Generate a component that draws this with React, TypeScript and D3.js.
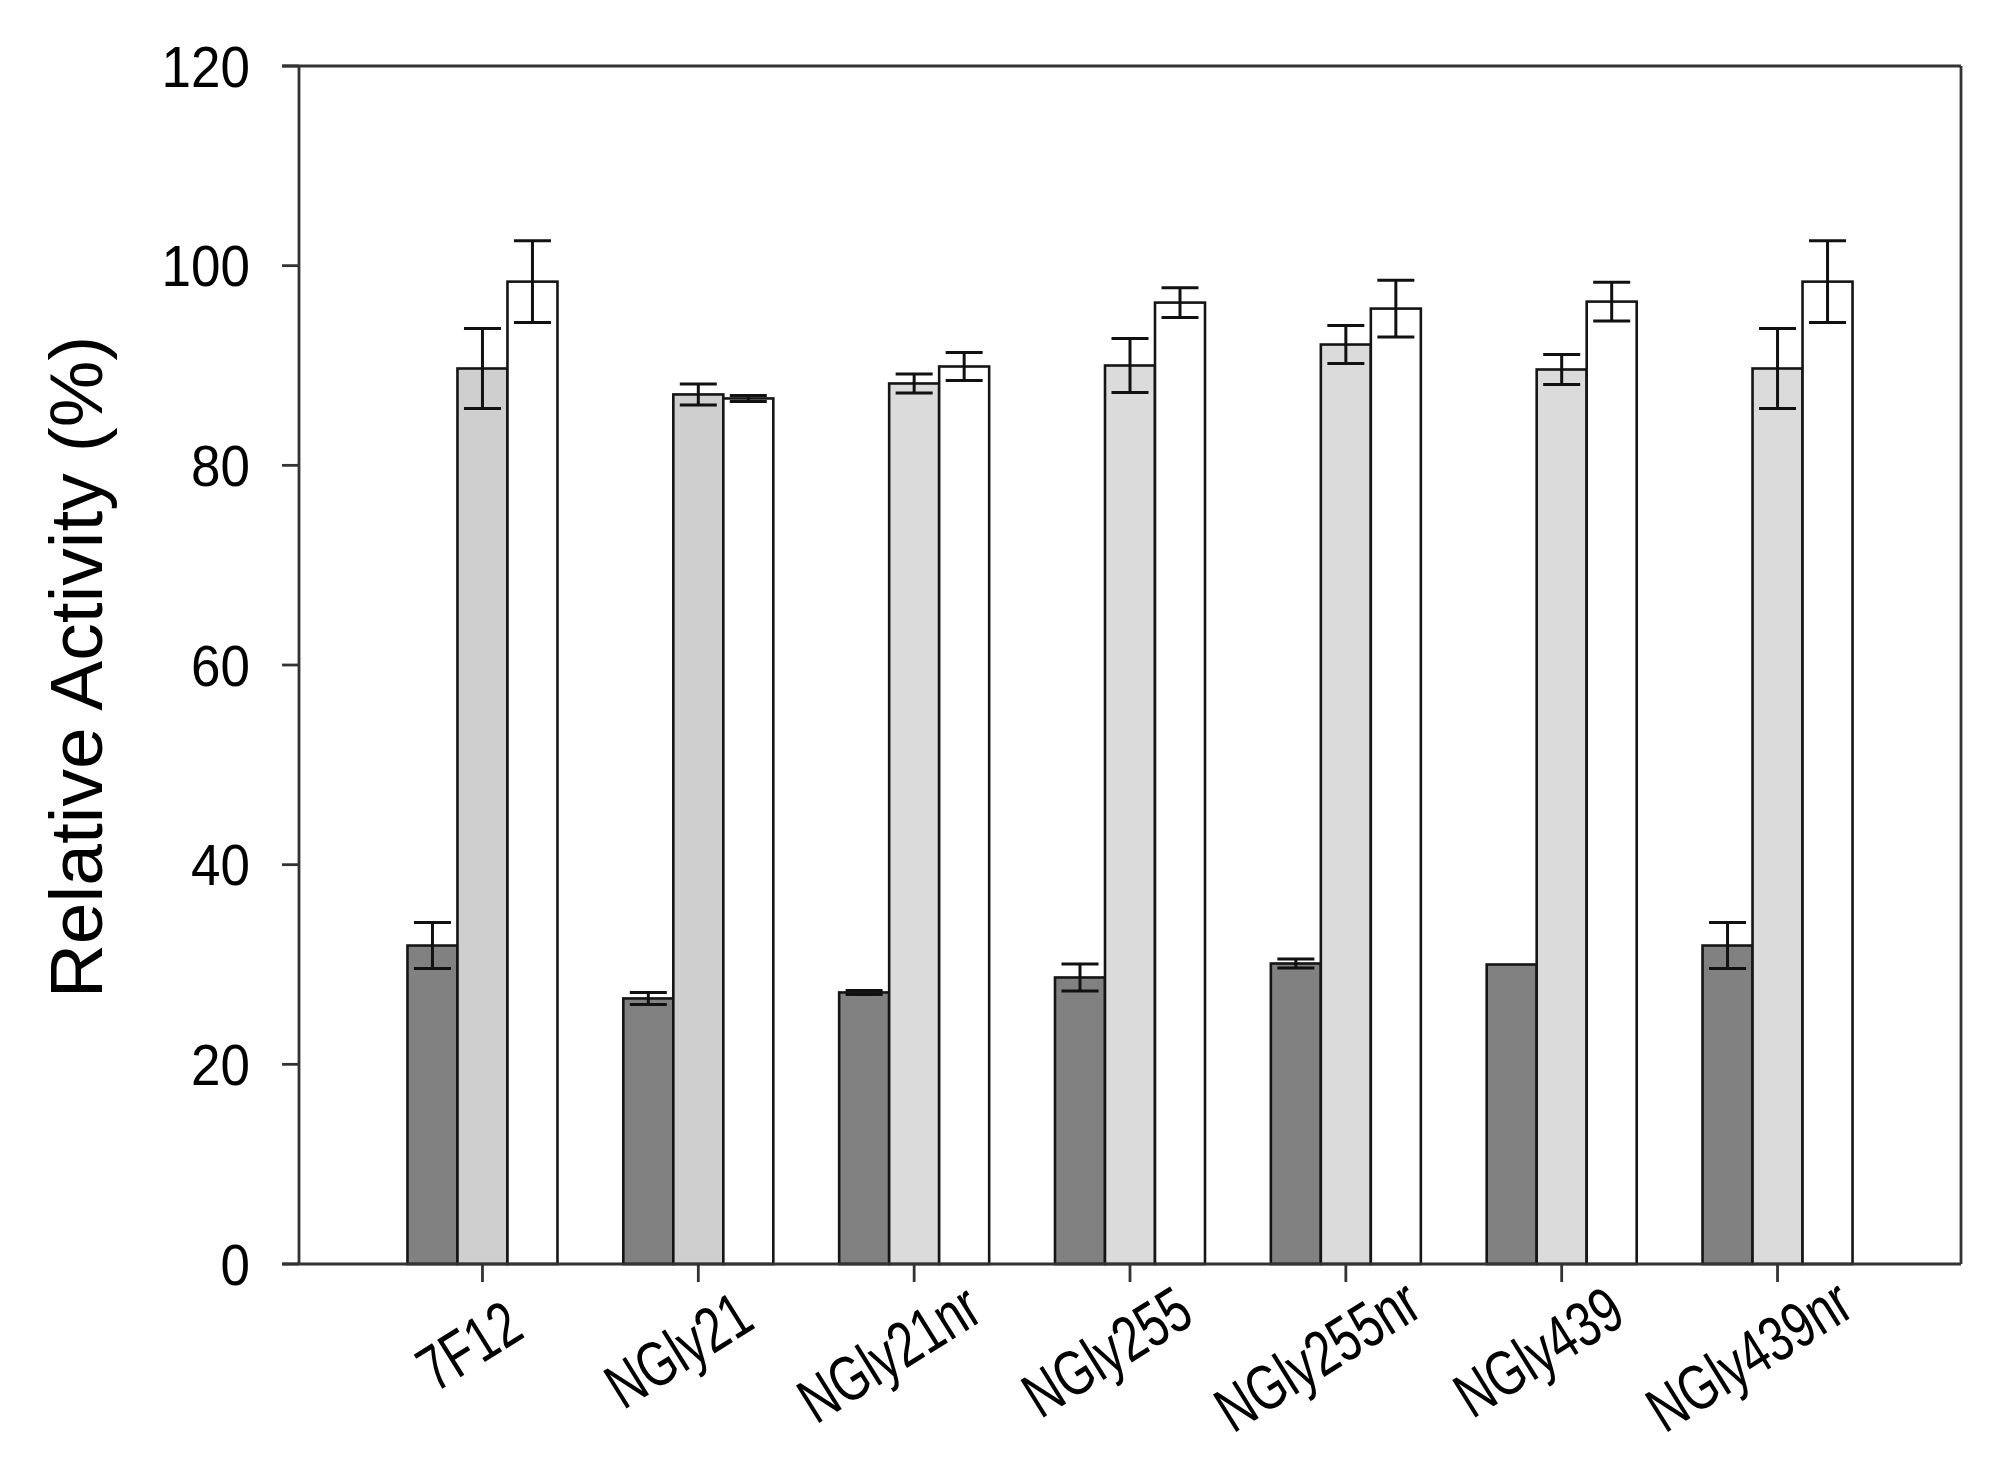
import React from "react";
import * as d3 from "d3";

const categories = ["7F12", "NGly21", "NGly21nr", "NGly255", "NGly255nr", "NGly439", "NGly439nr"];
const seriesDark = [31.9, 26.6, 27.2, 28.7, 30.1, 30.0, 31.9];
const errDark = [2.3, 0.6, 0.2, 1.35, 0.45, 0, 2.3];
const seriesLight = [89.7, 87.1, 88.2, 90.0, 92.1, 89.6, 89.7];
const errLight = [4.0, 1.05, 0.95, 2.7, 1.9, 1.5, 4.0];
const seriesWhite = [98.4, 86.7, 89.9, 96.3, 95.7, 96.4, 98.4];
const errWhite = [4.1, 0.3, 1.4, 1.5, 2.85, 1.95, 4.1];
const yTicks = [0, 20, 40, 60, 80, 100, 120];

const W = 1993;
const H = 1468;
const left = 299;
const right = 1961;
const top = 66;
const bottom = 1264;

const lightFills = ["#cfcfcf", "#cfcfcf", "#dbdbdb", "#dbdbdb", "#dbdbdb", "#dbdbdb", "#dbdbdb"];

const font = "'Liberation Sans', Arial, sans-serif";
const xLabelSize = 64;
const xLabelScale = 0.74;
const xAngle = 32;

let measureCtx: CanvasRenderingContext2D | null = null;
function textWidth(s: string): number {
  if (typeof document === "undefined") return s.length * xLabelSize * 0.5;
  if (!measureCtx) {
    const c = document.createElement("canvas");
    measureCtx = c.getContext("2d");
  }
  if (!measureCtx) return s.length * xLabelSize * 0.5;
  measureCtx.font = `${xLabelSize}px 'Liberation Sans', Arial, sans-serif`;
  return measureCtx.measureText(s).width;
}

export default function App() {
  const x = d3.scalePoint<string>().domain(categories).range([left, right]).padding(0.85);
  const sub = d3.scaleBand<number>().domain([0, 1, 2]).range([-75, 75]).paddingInner(0);
  const y = d3.scaleLinear().domain([0, 120]).range([bottom, top]);

  const series = [
    { values: seriesDark, errs: errDark, fill: (_i: number) => "#818181" },
    { values: seriesLight, errs: errLight, fill: (i: number) => lightFills[i] },
    { values: seriesWhite, errs: errWhite, fill: (_i: number) => "#ffffff" },
  ];

  const bw = sub.bandwidth();
  const capHalf = 18.5;

  return (
    <svg width={W} height={H} style={{ position: "absolute", left: 0, top: 0, background: "#fff" }}>
      <rect x={0} y={0} width={W} height={H} fill="#fff" />
      {/* bars */}
      {series.map((s, si) =>
        categories.map((c, i) => {
          const cx = (x(c) as number) + (sub(si) as number);
          const v = s.values[i];
          return (
            <rect
              key={`b${si}-${i}`}
              x={cx}
              y={y(v)}
              width={bw}
              height={bottom - y(v)}
              fill={s.fill(i)}
              stroke="#151515"
              strokeWidth={2.6}
            />
          );
        })
      )}
      {/* error bars */}
      {series.map((s, si) =>
        categories.map((c, i) => {
          const e = s.errs[i];
          if (e <= 0) return null;
          const mx = (x(c) as number) + (sub(si) as number) + bw / 2;
          const v = s.values[i];
          return (
            <g key={`e${si}-${i}`} stroke="#111" strokeWidth={3} fill="none">
              <line x1={mx} x2={mx} y1={y(v + e)} y2={y(v - e)} />
              <line x1={mx - capHalf} x2={mx + capHalf} y1={y(v + e)} y2={y(v + e)} />
              <line x1={mx - capHalf} x2={mx + capHalf} y1={y(v - e)} y2={y(v - e)} />
            </g>
          );
        })
      )}
      {/* frame */}
      <g stroke="#333" strokeWidth={2.8} fill="none">
        <line x1={left - 17} x2={right} y1={top} y2={top} />
        <line x1={right} x2={right} y1={top} y2={bottom} />
        <line x1={left} x2={left} y1={top} y2={bottom} />
        <line x1={left - 17} x2={right} y1={bottom} y2={bottom} />
        {yTicks.map((t) => (
          <line key={`yt${t}`} x1={left - 17} x2={left} y1={y(t)} y2={y(t)} />
        ))}
        {categories.map((c) => (
          <line key={`xt${c}`} x1={x(c) as number} x2={x(c) as number} y1={bottom} y2={bottom + 18} />
        ))}
      </g>
      {/* y tick labels */}
      {yTicks.map((t) => (
        <text
          key={`yl${t}`}
          transform={`translate(${left - 49}, ${y(t)}) scale(0.93,1)`}
          textAnchor="end"
          dy="0.36em"
          fontFamily={font}
          fontSize={57}
          fill="#000"
        >
          {t}
        </text>
      ))}
      {/* x tick labels: anchored at 65% along the text */}
      {categories.map((c) => {
        const L = textWidth(c);
        return (
          <text
            key={`xl${c}`}
            transform={`translate(${(x(c) as number) + 12}, ${1356}) rotate(${-xAngle}) scale(${xLabelScale},1)`}
            x={-0.65 * L}
            textAnchor="start"
            fontFamily={font}
            fontSize={xLabelSize}
            fill="#000"
          >
            {c}
          </text>
        );
      })}
      {/* y title */}
      <text
        transform={`translate(102, 667) rotate(-90)`}
        textAnchor="middle"
        fontFamily={font}
        fontSize={75}
        fill="#000"
      >
        Relative Activity (%)
      </text>
    </svg>
  );
}
